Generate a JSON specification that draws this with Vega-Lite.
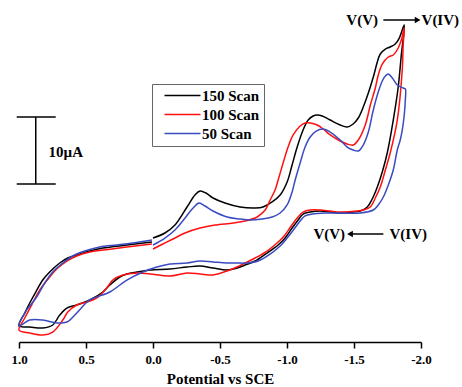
{
  "$schema": "https://vega.github.io/schema/vega-lite/v6.json",
  "width": 402,
  "height": 337,
  "autosize": {"type": "none"},
  "padding": {"left": 19, "top": 5, "right": 41, "bottom": 45},
  "background": "white",
  "config": {"view": {"stroke": null}},
  "datasets": {
    "cv": [
      {"s":"150 Scan","o":1,"E":0.000,"I":15.52},{"s":"150 Scan","o":2,"E":-0.089,"I":16.27},{"s":"150 Scan","o":3,"E":-0.164,"I":17.46},{"s":"150 Scan","o":4,"E":-0.254,"I":20.15},{"s":"150 Scan","o":5,"E":-0.313,"I":21.94},{"s":"150 Scan","o":6,"E":-0.351,"I":22.54},{"s":"150 Scan","o":7,"E":-0.395,"I":22.24},{"s":"150 Scan","o":8,"E":-0.448,"I":21.49},{"s":"150 Scan","o":9,"E":-0.537,"I":20.75},{"s":"150 Scan","o":10,"E":-0.650,"I":20.15},
      {"s":"150 Scan","o":11,"E":-0.762,"I":20.00},{"s":"150 Scan","o":12,"E":-0.821,"I":20.15},{"s":"150 Scan","o":13,"E":-0.889,"I":20.90},{"s":"150 Scan","o":14,"E":-0.949,"I":21.94},{"s":"150 Scan","o":15,"E":-1.001,"I":23.88},{"s":"150 Scan","o":16,"E":-1.038,"I":26.42},{"s":"150 Scan","o":17,"E":-1.076,"I":29.10},{"s":"150 Scan","o":18,"E":-1.120,"I":31.64},{"s":"150 Scan","o":19,"E":-1.158,"I":33.13},{"s":"150 Scan","o":20,"E":-1.195,"I":33.73},
      {"s":"150 Scan","o":21,"E":-1.225,"I":33.88},{"s":"150 Scan","o":22,"E":-1.263,"I":33.73},{"s":"150 Scan","o":23,"E":-1.322,"I":33.13},{"s":"150 Scan","o":24,"E":-1.397,"I":32.39},{"s":"150 Scan","o":25,"E":-1.449,"I":32.09},{"s":"150 Scan","o":26,"E":-1.494,"I":32.54},{"s":"150 Scan","o":27,"E":-1.532,"I":33.43},{"s":"150 Scan","o":28,"E":-1.569,"I":35.07},{"s":"150 Scan","o":29,"E":-1.607,"I":37.16},{"s":"150 Scan","o":30,"E":-1.644,"I":39.55},
      {"s":"150 Scan","o":31,"E":-1.674,"I":41.79},{"s":"150 Scan","o":32,"E":-1.696,"I":42.99},{"s":"150 Scan","o":33,"E":-1.734,"I":43.73},{"s":"150 Scan","o":34,"E":-1.770,"I":44.03},{"s":"150 Scan","o":35,"E":-1.808,"I":44.48},{"s":"150 Scan","o":36,"E":-1.838,"I":45.37},{"s":"150 Scan","o":37,"E":-1.875,"I":47.31},{"s":"150 Scan","o":38,"E":-1.853,"I":42.84},{"s":"150 Scan","o":39,"E":-1.830,"I":38.06},{"s":"150 Scan","o":40,"E":-1.793,"I":33.13},
      {"s":"150 Scan","o":41,"E":-1.748,"I":28.21},{"s":"150 Scan","o":42,"E":-1.711,"I":25.37},{"s":"150 Scan","o":43,"E":-1.674,"I":23.13},{"s":"150 Scan","o":44,"E":-1.636,"I":21.34},{"s":"150 Scan","o":45,"E":-1.599,"I":20.15},{"s":"150 Scan","o":46,"E":-1.547,"I":19.55},{"s":"150 Scan","o":47,"E":-1.494,"I":19.40},{"s":"150 Scan","o":48,"E":-1.397,"I":19.25},{"s":"150 Scan","o":49,"E":-1.322,"I":19.40},{"s":"150 Scan","o":50,"E":-1.248,"I":19.55},
      {"s":"150 Scan","o":51,"E":-1.173,"I":19.40},{"s":"150 Scan","o":52,"E":-1.120,"I":19.10},{"s":"150 Scan","o":53,"E":-1.083,"I":18.21},{"s":"150 Scan","o":54,"E":-1.038,"I":17.01},{"s":"150 Scan","o":55,"E":-0.986,"I":15.52},{"s":"150 Scan","o":56,"E":-0.934,"I":14.48},{"s":"150 Scan","o":57,"E":-0.851,"I":13.28},{"s":"150 Scan","o":58,"E":-0.762,"I":12.09},{"s":"150 Scan","o":59,"E":-0.687,"I":11.49},{"s":"150 Scan","o":60,"E":-0.627,"I":11.04},
      {"s":"150 Scan","o":61,"E":-0.553,"I":10.75},{"s":"150 Scan","o":62,"E":-0.448,"I":11.04},{"s":"150 Scan","o":63,"E":-0.351,"I":11.34},{"s":"150 Scan","o":64,"E":-0.254,"I":11.19},{"s":"150 Scan","o":65,"E":-0.126,"I":10.90},{"s":"150 Scan","o":66,"E":0.023,"I":10.75},{"s":"150 Scan","o":67,"E":0.120,"I":10.45},{"s":"150 Scan","o":68,"E":0.195,"I":10.15},{"s":"150 Scan","o":69,"E":0.247,"I":9.70},{"s":"150 Scan","o":70,"E":0.322,"I":8.51},
      {"s":"150 Scan","o":71,"E":0.374,"I":7.46},{"s":"150 Scan","o":72,"E":0.472,"I":6.27},{"s":"150 Scan","o":73,"E":0.569,"I":5.52},{"s":"150 Scan","o":74,"E":0.643,"I":5.07},{"s":"150 Scan","o":75,"E":0.696,"I":4.03},{"s":"150 Scan","o":76,"E":0.748,"I":2.54},{"s":"150 Scan","o":77,"E":0.823,"I":2.09},{"s":"150 Scan","o":78,"E":0.920,"I":2.24},{"s":"150 Scan","o":79,"E":1.000,"I":2.39},{"s":"150 Scan","o":80,"E":0.957,"I":4.33},
      {"s":"150 Scan","o":81,"E":0.920,"I":5.82},{"s":"150 Scan","o":82,"E":0.875,"I":7.46},{"s":"150 Scan","o":83,"E":0.823,"I":9.25},{"s":"150 Scan","o":84,"E":0.771,"I":10.45},{"s":"150 Scan","o":85,"E":0.696,"I":11.79},{"s":"150 Scan","o":86,"E":0.636,"I":12.54},{"s":"150 Scan","o":87,"E":0.569,"I":12.99},{"s":"150 Scan","o":88,"E":0.472,"I":13.58},{"s":"150 Scan","o":89,"E":0.374,"I":14.03},{"s":"150 Scan","o":90,"E":0.195,"I":14.48},{"s":"150 Scan","o":91,"E":0.008,"I":14.93},

      {"s":"100 Scan","o":1,"E":0.000,"I":13.88},{"s":"100 Scan","o":2,"E":-0.074,"I":14.63},{"s":"100 Scan","o":3,"E":-0.149,"I":15.37},{"s":"100 Scan","o":4,"E":-0.239,"I":16.27},{"s":"100 Scan","o":5,"E":-0.351,"I":17.01},{"s":"100 Scan","o":6,"E":-0.463,"I":17.46},{"s":"100 Scan","o":7,"E":-0.598,"I":17.76},{"s":"100 Scan","o":8,"E":-0.687,"I":18.06},{"s":"100 Scan","o":9,"E":-0.777,"I":18.66},{"s":"100 Scan","o":10,"E":-0.837,"I":19.70},
      {"s":"100 Scan","o":11,"E":-0.874,"I":21.19},{"s":"100 Scan","o":12,"E":-0.911,"I":22.69},{"s":"100 Scan","o":13,"E":-0.934,"I":24.18},{"s":"100 Scan","o":14,"E":-0.971,"I":26.72},{"s":"100 Scan","o":15,"E":-1.008,"I":29.10},{"s":"100 Scan","o":16,"E":-1.046,"I":30.90},{"s":"100 Scan","o":17,"E":-1.098,"I":32.24},{"s":"100 Scan","o":18,"E":-1.135,"I":32.69},{"s":"100 Scan","o":19,"E":-1.173,"I":32.69},{"s":"100 Scan","o":20,"E":-1.225,"I":32.39},
      {"s":"100 Scan","o":21,"E":-1.270,"I":31.79},{"s":"100 Scan","o":22,"E":-1.322,"I":30.90},{"s":"100 Scan","o":23,"E":-1.397,"I":30.00},{"s":"100 Scan","o":24,"E":-1.449,"I":29.55},{"s":"100 Scan","o":25,"E":-1.494,"I":29.40},{"s":"100 Scan","o":26,"E":-1.532,"I":30.15},{"s":"100 Scan","o":27,"E":-1.584,"I":32.39},{"s":"100 Scan","o":28,"E":-1.622,"I":35.37},{"s":"100 Scan","o":29,"E":-1.659,"I":37.91},{"s":"100 Scan","o":30,"E":-1.681,"I":39.85},
      {"s":"100 Scan","o":31,"E":-1.711,"I":41.49},{"s":"100 Scan","o":32,"E":-1.756,"I":42.54},{"s":"100 Scan","o":33,"E":-1.793,"I":42.84},{"s":"100 Scan","o":34,"E":-1.830,"I":43.88},{"s":"100 Scan","o":35,"E":-1.853,"I":45.07},{"s":"100 Scan","o":36,"E":-1.875,"I":46.87},{"s":"100 Scan","o":37,"E":-1.867,"I":44.33},{"s":"100 Scan","o":38,"E":-1.860,"I":40.60},{"s":"100 Scan","o":39,"E":-1.823,"I":33.13},{"s":"100 Scan","o":40,"E":-1.770,"I":28.21},
      {"s":"100 Scan","o":41,"E":-1.734,"I":25.67},{"s":"100 Scan","o":42,"E":-1.696,"I":23.13},{"s":"100 Scan","o":43,"E":-1.659,"I":21.49},{"s":"100 Scan","o":44,"E":-1.622,"I":20.15},{"s":"100 Scan","o":45,"E":-1.569,"I":19.70},{"s":"100 Scan","o":46,"E":-1.524,"I":19.55},{"s":"100 Scan","o":47,"E":-1.397,"I":19.40},{"s":"100 Scan","o":48,"E":-1.322,"I":19.55},{"s":"100 Scan","o":49,"E":-1.248,"I":19.70},{"s":"100 Scan","o":50,"E":-1.173,"I":19.70},
      {"s":"100 Scan","o":51,"E":-1.120,"I":19.40},{"s":"100 Scan","o":52,"E":-1.076,"I":18.51},{"s":"100 Scan","o":53,"E":-1.031,"I":17.31},{"s":"100 Scan","o":54,"E":-0.979,"I":15.82},{"s":"100 Scan","o":55,"E":-0.926,"I":14.78},{"s":"100 Scan","o":56,"E":-0.851,"I":13.58},{"s":"100 Scan","o":57,"E":-0.762,"I":12.54},{"s":"100 Scan","o":58,"E":-0.687,"I":11.79},{"s":"100 Scan","o":59,"E":-0.627,"I":11.19},{"s":"100 Scan","o":60,"E":-0.553,"I":10.60},
      {"s":"100 Scan","o":61,"E":-0.448,"I":10.00},{"s":"100 Scan","o":62,"E":-0.351,"I":10.15},{"s":"100 Scan","o":63,"E":-0.254,"I":10.30},{"s":"100 Scan","o":64,"E":-0.126,"I":9.85},{"s":"100 Scan","o":65,"E":0.023,"I":10.15},{"s":"100 Scan","o":66,"E":0.120,"I":10.30},{"s":"100 Scan","o":67,"E":0.225,"I":10.00},{"s":"100 Scan","o":68,"E":0.300,"I":9.25},{"s":"100 Scan","o":69,"E":0.345,"I":8.06},{"s":"100 Scan","o":70,"E":0.419,"I":6.57},
      {"s":"100 Scan","o":71,"E":0.494,"I":5.97},{"s":"100 Scan","o":72,"E":0.569,"I":5.52},{"s":"100 Scan","o":73,"E":0.636,"I":4.48},{"s":"100 Scan","o":74,"E":0.673,"I":3.28},{"s":"100 Scan","o":75,"E":0.748,"I":1.49},{"s":"100 Scan","o":76,"E":0.823,"I":1.04},{"s":"100 Scan","o":77,"E":0.920,"I":1.34},{"s":"100 Scan","o":78,"E":1.000,"I":1.79},{"s":"100 Scan","o":79,"E":0.957,"I":3.58},{"s":"100 Scan","o":80,"E":0.898,"I":5.82},
      {"s":"100 Scan","o":81,"E":0.845,"I":7.76},{"s":"100 Scan","o":82,"E":0.771,"I":9.70},{"s":"100 Scan","o":83,"E":0.711,"I":11.04},{"s":"100 Scan","o":84,"E":0.643,"I":12.09},{"s":"100 Scan","o":85,"E":0.569,"I":12.84},{"s":"100 Scan","o":86,"E":0.472,"I":13.43},{"s":"100 Scan","o":87,"E":0.374,"I":13.73},{"s":"100 Scan","o":88,"E":0.195,"I":14.18},{"s":"100 Scan","o":89,"E":0.008,"I":14.63},

      {"s":"50 Scan","o":1,"E":0.000,"I":14.48},{"s":"50 Scan","o":2,"E":-0.089,"I":15.52},{"s":"50 Scan","o":3,"E":-0.164,"I":16.72},{"s":"50 Scan","o":4,"E":-0.239,"I":18.51},{"s":"50 Scan","o":5,"E":-0.299,"I":20.00},{"s":"50 Scan","o":6,"E":-0.343,"I":20.75},{"s":"50 Scan","o":7,"E":-0.388,"I":20.30},{"s":"50 Scan","o":8,"E":-0.448,"I":19.55},{"s":"50 Scan","o":9,"E":-0.553,"I":18.66},{"s":"50 Scan","o":10,"E":-0.650,"I":18.36},
      {"s":"50 Scan","o":11,"E":-0.724,"I":18.21},{"s":"50 Scan","o":12,"E":-0.814,"I":18.36},{"s":"50 Scan","o":13,"E":-0.889,"I":18.66},{"s":"50 Scan","o":14,"E":-0.949,"I":19.25},{"s":"50 Scan","o":15,"E":-1.001,"I":20.45},{"s":"50 Scan","o":16,"E":-1.038,"I":22.39},{"s":"50 Scan","o":17,"E":-1.061,"I":24.18},{"s":"50 Scan","o":18,"E":-1.098,"I":26.72},{"s":"50 Scan","o":19,"E":-1.135,"I":29.10},{"s":"50 Scan","o":20,"E":-1.173,"I":30.60},
      {"s":"50 Scan","o":21,"E":-1.218,"I":31.49},{"s":"50 Scan","o":22,"E":-1.270,"I":31.79},{"s":"50 Scan","o":23,"E":-1.322,"I":31.34},{"s":"50 Scan","o":24,"E":-1.397,"I":30.15},{"s":"50 Scan","o":25,"E":-1.449,"I":29.10},{"s":"50 Scan","o":26,"E":-1.494,"I":28.66},{"s":"50 Scan","o":27,"E":-1.532,"I":28.51},{"s":"50 Scan","o":28,"E":-1.569,"I":29.40},{"s":"50 Scan","o":29,"E":-1.607,"I":31.34},{"s":"50 Scan","o":30,"E":-1.644,"I":34.63},
      {"s":"50 Scan","o":31,"E":-1.681,"I":37.31},{"s":"50 Scan","o":32,"E":-1.711,"I":38.96},{"s":"50 Scan","o":33,"E":-1.734,"I":39.70},{"s":"50 Scan","o":34,"E":-1.756,"I":40.00},{"s":"50 Scan","o":35,"E":-1.786,"I":39.40},{"s":"50 Scan","o":36,"E":-1.823,"I":38.36},{"s":"50 Scan","o":37,"E":-1.867,"I":37.91},{"s":"50 Scan","o":38,"E":-1.883,"I":37.76},{"s":"50 Scan","o":39,"E":-1.883,"I":36.12},{"s":"50 Scan","o":40,"E":-1.875,"I":33.88},
      {"s":"50 Scan","o":41,"E":-1.860,"I":31.64},{"s":"50 Scan","o":42,"E":-1.845,"I":30.15},{"s":"50 Scan","o":43,"E":-1.823,"I":28.66},{"s":"50 Scan","o":44,"E":-1.793,"I":25.67},{"s":"50 Scan","o":45,"E":-1.756,"I":23.43},{"s":"50 Scan","o":46,"E":-1.719,"I":21.64},{"s":"50 Scan","o":47,"E":-1.681,"I":20.45},{"s":"50 Scan","o":48,"E":-1.644,"I":19.70},{"s":"50 Scan","o":49,"E":-1.547,"I":19.25},{"s":"50 Scan","o":50,"E":-1.397,"I":19.25},
      {"s":"50 Scan","o":51,"E":-1.285,"I":19.25},{"s":"50 Scan","o":52,"E":-1.188,"I":19.10},{"s":"50 Scan","o":53,"E":-1.135,"I":18.81},{"s":"50 Scan","o":54,"E":-1.098,"I":18.06},{"s":"50 Scan","o":55,"E":-1.053,"I":16.87},{"s":"50 Scan","o":56,"E":-1.001,"I":15.52},{"s":"50 Scan","o":57,"E":-0.949,"I":14.33},{"s":"50 Scan","o":58,"E":-0.874,"I":13.13},{"s":"50 Scan","o":59,"E":-0.784,"I":12.09},{"s":"50 Scan","o":60,"E":-0.702,"I":11.79},
      {"s":"50 Scan","o":61,"E":-0.627,"I":11.79},{"s":"50 Scan","o":62,"E":-0.553,"I":11.79},{"s":"50 Scan","o":63,"E":-0.448,"I":11.94},{"s":"50 Scan","o":64,"E":-0.351,"I":12.09},{"s":"50 Scan","o":65,"E":-0.254,"I":11.79},{"s":"50 Scan","o":66,"E":-0.126,"I":11.64},{"s":"50 Scan","o":67,"E":-0.029,"I":11.19},{"s":"50 Scan","o":68,"E":0.075,"I":10.45},{"s":"50 Scan","o":69,"E":0.195,"I":9.25},{"s":"50 Scan","o":70,"E":0.322,"I":7.46},
      {"s":"50 Scan","o":71,"E":0.472,"I":6.27},{"s":"50 Scan","o":72,"E":0.569,"I":4.33},{"s":"50 Scan","o":73,"E":0.643,"I":2.99},{"s":"50 Scan","o":74,"E":0.718,"I":2.84},{"s":"50 Scan","o":75,"E":0.823,"I":3.28},{"s":"50 Scan","o":76,"E":0.920,"I":3.28},{"s":"50 Scan","o":77,"E":1.000,"I":2.39},{"s":"50 Scan","o":78,"E":0.942,"I":4.78},{"s":"50 Scan","o":79,"E":0.868,"I":6.72},{"s":"50 Scan","o":80,"E":0.808,"I":8.81},
      {"s":"50 Scan","o":81,"E":0.748,"I":10.45},{"s":"50 Scan","o":82,"E":0.673,"I":11.79},{"s":"50 Scan","o":83,"E":0.599,"I":12.84},{"s":"50 Scan","o":84,"E":0.509,"I":13.58},{"s":"50 Scan","o":85,"E":0.397,"I":14.18},{"s":"50 Scan","o":86,"E":0.270,"I":14.48},{"s":"50 Scan","o":87,"E":0.150,"I":14.78},{"s":"50 Scan","o":88,"E":0.008,"I":15.22}
    ],
    "rules": [
      {"E":-1.719,"E2":-1.965,"I":48.06,"I2":48.06},
      {"E":-1.719,"E2":-1.480,"I":16.12,"I2":16.12},
      {"E":0.875,"E2":0.875,"I":23.58,"I2":33.58},
      {"E":1.017,"E2":0.726,"I":33.58,"I2":33.58},
      {"E":1.017,"E2":0.726,"I":23.58,"I2":23.58}
    ],
    "heads": [
      {"E":-1.975,"I":48.06,"shape":"triangle-right"},
      {"E":-1.470,"I":16.12,"shape":"triangle-left"}
    ],
    "labels": [
      {"E":-1.561,"I":48.06,"t":"V(V)"},
      {"E":-2.144,"I":48.06,"t":"V(IV)"},
      {"E":-1.315,"I":16.12,"t":"V(V)"},
      {"E":-1.905,"I":16.12,"t":"V(IV)"},
      {"E":0.651,"I":28.36,"t":"10µA"}
    ]
  },
  "layer": [
    {
      "data": {"name": "cv"},
      "mark": {"type": "line", "strokeWidth": 1.5, "interpolate": "catmull-rom"},
      "encoding": {
        "x": {
          "field": "E", "type": "quantitative",
          "scale": {"domain": [-2, 1], "reverse": true, "nice": false, "zero": false},
          "axis": {
            "title": "Potential vs SCE",
            "values": [1, 0.75, 0.5, 0.25, 0, -0.25, -0.5, -0.75, -1, -1.25, -1.5, -1.75, -2],
            "labelExpr": "abs(datum.value*2 - round(datum.value*2)) < 0.01 ? replace(format(datum.value, '.1f'), '\u2212', '-') : ''",
            "tickSize": {"condition": {"test": "abs(datum.value*2 - round(datum.value*2)) > 0.01", "value": 3}, "value": 6},
            "grid": false,
            "domainColor": "black", "domainWidth": 1.6,
            "tickColor": "black", "tickWidth": 1.5,
            "labelFont": "Liberation Serif", "labelFontSize": 13, "labelFontWeight": "bold", "labelColor": "black",
            "labelPadding": 5, "labelFlush": false, "labelOverlap": false,
            "titleFont": "Liberation Serif", "titleFontSize": 15, "titleFontWeight": "bold", "titleColor": "black",
            "titlePadding": 5
          }
        },
        "y": {
          "field": "I", "type": "quantitative",
          "scale": {"domain": [0, 50.3], "nice": false, "zero": false},
          "axis": null
        },
        "color": {
          "field": "s", "type": "nominal",
          "scale": {"domain": ["150 Scan", "100 Scan", "50 Scan"], "range": ["#000000", "#ff1010", "#3a4bc2"]},
          "legend": {
            "orient": "none", "legendX": 133, "legendY": 79,
            "title": null,
            "symbolType": "M-3,0H3", "symbolSize": 144, "symbolStrokeWidth": 1.5,
            "labelFont": "Liberation Serif", "labelFontSize": 15, "labelFontWeight": "bold", "labelColor": "black",
            "strokeColor": "#666666", "fillColor": "white", "padding": 4, "rowPadding": 3, "symbolOffset": 19, "labelOffset": 12
          }
        },
        "order": {"field": "o", "type": "quantitative"}
      }
    },
    {
      "data": {"name": "rules"},
      "mark": {"type": "rule", "color": "black", "strokeWidth": 1.5},
      "encoding": {
        "x": {"field": "E", "type": "quantitative"},
        "x2": {"field": "E2"},
        "y": {"field": "I", "type": "quantitative"},
        "y2": {"field": "I2"}
      }
    },
    {
      "data": {"name": "heads"},
      "mark": {"type": "point", "filled": true, "color": "black", "size": 45, "opacity": 1},
      "encoding": {
        "x": {"field": "E", "type": "quantitative"},
        "y": {"field": "I", "type": "quantitative"},
        "shape": {"field": "shape", "type": "nominal", "scale": null}
      }
    },
    {
      "data": {"name": "labels"},
      "mark": {"type": "text", "font": "Liberation Serif", "fontSize": 15, "fontWeight": "bold", "color": "black", "align": "center", "baseline": "middle"},
      "encoding": {
        "x": {"field": "E", "type": "quantitative"},
        "y": {"field": "I", "type": "quantitative"},
        "text": {"field": "t", "type": "nominal"}
      }
    }
  ]
}
